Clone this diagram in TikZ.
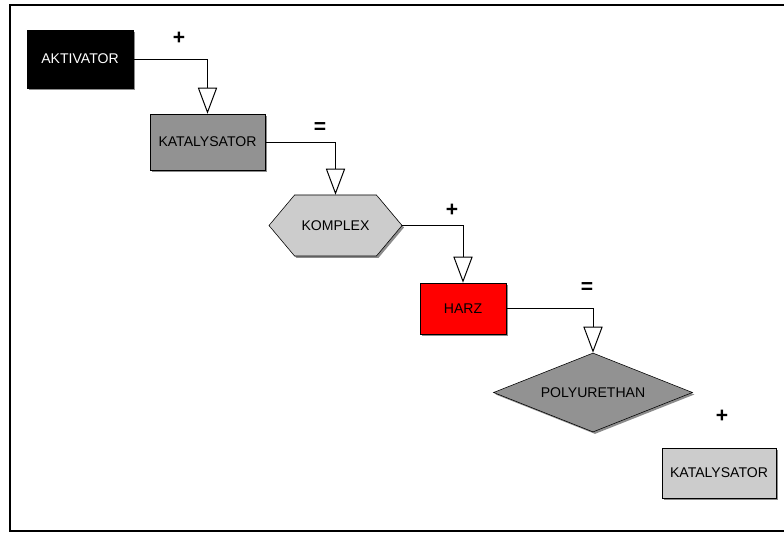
\documentclass[tikz,border=0pt]{standalone}
\usepackage{fontspec}
\setmainfont{Liberation Sans}
\usepackage{tikz}
\usetikzlibrary{positioning, shapes.geometric, shapes.symbols, shadows, arrows.meta}
\tikzset{
    block/.style={
        draw, inner sep=0pt,
        font = \fontsize{10}{12}\selectfont,
        drop shadow={shadow xshift=1.4pt, shadow yshift=-1.4pt, fill=black!45, opacity=1}
    },
    sign/.style = {font = \bfseries\fontsize{15}{17}\selectfont},
    line/.style = {line width=0.7pt, -{Triangle[open, length=0.65cm, width=0.48cm, fill=white]}}
}
\definecolor{darkgrey}{HTML}{929292}
\definecolor{lightgrey}{HTML}{CCCCCC}

\begin{document}
\begin{tikzpicture}[x=0.025cm, y=-0.025cm]

    \useasboundingbox (0,0) rectangle (784,534);
    \fill[white] (0,0) rectangle (784,534);

    % Frame
    \draw[line width=1.8pt] (790,5) -- (10,5) -- (10,531) -- (790,531);

    % Blocks
    \node[block, fill=black, text=white,
        minimum width=2.65cm, minimum height=1.45cm] (aktivator) at (80,59) {AKTIVATOR};
    \node[block, fill=darkgrey,
        minimum width=2.875cm, minimum height=1.4cm] (kat1) at (207.5,142) {KATALYSATOR};
    \node[block, signal, signal to=east and west, signal pointer angle=100, fill=lightgrey,
        minimum width=3.325cm, minimum height=1.525cm] (komplex) at (335.5,225.5) {KOMPLEX};
    \node[block, fill=red,
        minimum width=2.15cm, minimum height=1.275cm] (harz) at (463,308.5) {HARZ};
    \node[block, diamond, aspect=2.5, fill=darkgrey,
        minimum width=4.975cm, minimum height=1.975cm] (poly) at (593,392.5) {POLYURETHAN};
    \node[block, fill=lightgrey,
        minimum width=2.85cm, minimum height=1.25cm] (kat2) at (719,473) {KATALYSATOR};

    % Signs
    \node[sign] (plus1) at (179,38) {+};
    \node[sign] (eq1) at (320,128) {=};
    \node[sign] (plus2) at (452,210) {+};
    \node[sign] (eq2) at (587,288) {=};
    \node[sign] (plus3) at (722,416) {+};

    % Lines
    \draw[line] (aktivator.east) -| (kat1.north);
    \draw[line] (kat1.east) -| (komplex.north);
    \draw[line] (komplex.east) -| (harz.north);
    \draw[line] (harz.east) -| (poly.north);

\end{tikzpicture}
\end{document}
